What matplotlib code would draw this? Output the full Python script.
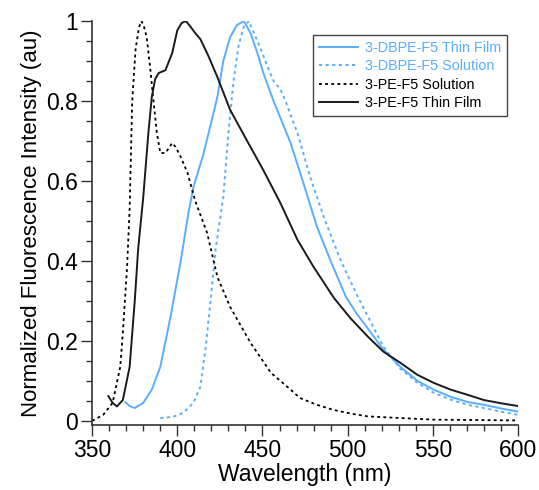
import matplotlib
matplotlib.use('Agg')
import matplotlib.pyplot as plt
from matplotlib.ticker import MultipleLocator, FormatStrFormatter
import numpy as np

plt.rcParams['font.family'] = ['Liberation Sans', 'DejaVu Sans']

# 3-DBPE-F5 Thin Film
dbpe_film_x = [369.5, 372, 375, 380, 385, 390, 396, 402, 406.5, 409.5, 415.5, 423.5, 427, 431, 435,
               439, 443, 447, 450.5, 456.5, 466.5, 474, 482, 490, 499, 505, 512, 521, 531,
               541, 550.5, 560.5, 570.5, 580, 590, 600]
dbpe_film_y = [0.047, 0.037, 0.032, 0.045, 0.078, 0.135, 0.26, 0.40, 0.52, 0.585, 0.67, 0.81, 0.90, 0.96, 0.99,
               1.0, 0.97, 0.92, 0.87, 0.80, 0.695, 0.595, 0.485, 0.40, 0.31, 0.27, 0.23, 0.178, 0.135,
               0.10, 0.078, 0.06, 0.047, 0.04, 0.031, 0.023]

# 3-DBPE-F5 Solution
dbpe_sol_x = [390, 397.5, 403.5, 409.5, 413.5, 416.5, 419.5, 422.5, 427, 430, 433, 436, 439, 442,
              445, 449, 453, 456.5, 460.5, 463.5, 470.5, 478, 486, 496, 506, 512, 521, 531, 541,
              550.5, 560.5, 570.5, 580, 590, 600]
dbpe_sol_y = [0.007, 0.01, 0.02, 0.045, 0.085, 0.178, 0.30, 0.43, 0.56, 0.72, 0.85, 0.94, 0.985, 1.0,
              0.97, 0.93, 0.885, 0.85, 0.83, 0.80, 0.72, 0.61, 0.51, 0.40, 0.31, 0.26, 0.185, 0.13, 0.095,
              0.07, 0.053, 0.04, 0.032, 0.023, 0.015]

# 3-PE-F5 Solution
pe_sol_x = [350, 356.5, 362, 366.5, 368, 370.5, 372, 373.5, 375.5, 377.5, 379, 380.5, 382, 384, 386, 388, 390,
            393, 397, 399, 402, 406, 410.5, 417.5, 423.5, 431, 443, 455, 466.5, 472, 482, 492, 502, 512,
            531, 550.5, 575, 600]
pe_sol_y = [0.0, 0.015, 0.045, 0.135, 0.22, 0.385, 0.53, 0.8, 0.93, 0.985, 1.0, 0.985, 0.96, 0.885, 0.80, 0.72, 0.67,
            0.67, 0.695, 0.685, 0.66, 0.62, 0.55, 0.47, 0.36, 0.285, 0.195, 0.12, 0.078, 0.057, 0.04, 0.027, 0.018, 0.011,
            0.007, 0.003, 0.002, 0.001]

# 3-PE-F5 Thin Film
pe_film_x = [359.5, 362, 364.5, 368, 372, 375, 377, 380, 383, 385, 387, 389, 393, 397, 400, 402.5,
             405, 407, 410.5, 413.5, 418, 423.5, 431, 441, 450.5, 460.5, 470.5, 480,
             492, 502, 512, 521, 531, 541, 550.5, 560.5, 570.5, 580, 590, 600]
pe_film_y = [0.062, 0.045, 0.036, 0.052, 0.135, 0.30, 0.43, 0.56, 0.72, 0.81, 0.855, 0.87, 0.877, 0.92, 0.977, 0.995,
             1.0, 0.99, 0.97, 0.955, 0.915, 0.86, 0.778, 0.70, 0.627, 0.545, 0.453, 0.385,
             0.307, 0.255, 0.21, 0.173, 0.145, 0.115, 0.095, 0.078, 0.065, 0.052, 0.044, 0.037]

blue = '#5aaeff'
dots = (0, (1.6, 1.8))

fig = plt.figure(figsize=(5.39, 4.9), dpi=100)
ax = fig.add_axes([0.171, 0.133, 0.790, 0.824])

ax.plot(dbpe_film_x, dbpe_film_y, color=blue, lw=1.4, label='3-DBPE-F5 Thin Film')
ax.plot(dbpe_sol_x, dbpe_sol_y, color=blue, lw=1.4, ls=dots, label='3-DBPE-F5 Solution')
ax.plot(pe_sol_x, pe_sol_y, color='black', lw=1.3, ls=dots, label='3-PE-F5 Solution')
ax.plot(pe_film_x, pe_film_y, color='#1a1a1a', lw=1.4, label='3-PE-F5 Thin Film')

ax.set_xlim(350, 600)
ax.set_ylim(-0.01, 1.0)
ax.xaxis.set_major_locator(MultipleLocator(50))
ax.xaxis.set_minor_locator(MultipleLocator(10))
ax.yaxis.set_major_locator(MultipleLocator(0.2))
ax.yaxis.set_minor_locator(MultipleLocator(0.05))
ax.yaxis.set_major_formatter(FormatStrFormatter('%g'))
ax.tick_params(which='major', direction='out', length=8, width=1, labelsize=16.5,
               color='#333333', labelcolor='black', pad=2)
ax.tick_params(which='minor', direction='out', length=4, width=1, color='#333333')
for s in ['top', 'right']:
    ax.spines[s].set_visible(False)
for s in ['left', 'bottom']:
    ax.spines[s].set_color('#333333')
    ax.spines[s].set_linewidth(1.2)

ax.set_xlabel('Wavelength (nm)', fontsize=16.5, labelpad=1)
ax.set_ylabel('Normalized Fluorescence Intensity (au)', fontsize=16, labelpad=3)

leg = ax.legend(loc='upper right', bbox_to_anchor=(0.975, 0.965), fontsize=10.4, frameon=True,
                fancybox=False, edgecolor='#444444', framealpha=1, handlelength=2.7,
                borderpad=0.4, labelspacing=0.3, handletextpad=0.5, borderaxespad=0)
leg.get_frame().set_linewidth(1.0)
leg.texts[0].set_color(blue)
leg.texts[1].set_color(blue)

fig.savefig('out.png', dpi=100)
